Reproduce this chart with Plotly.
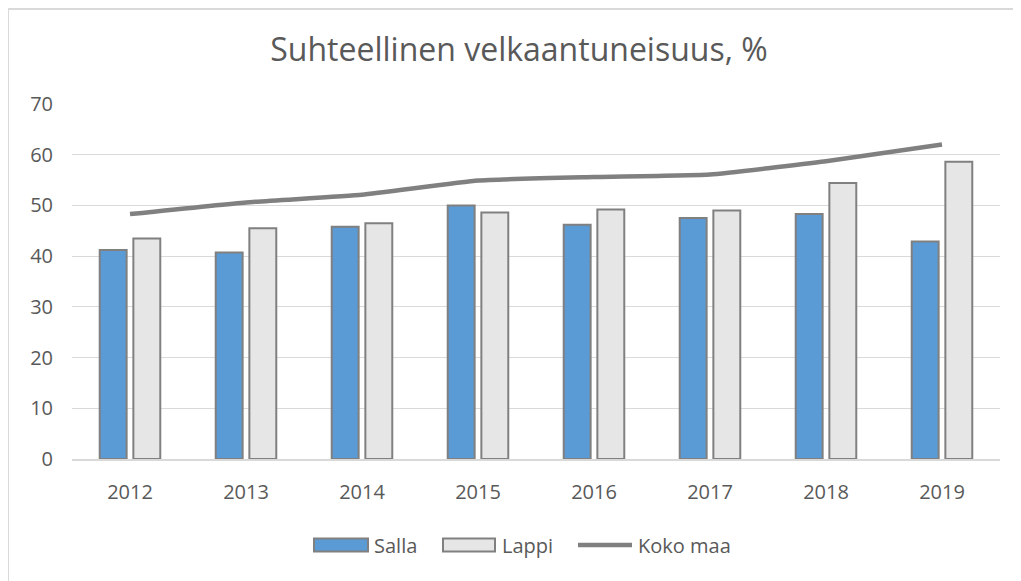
import plotly.graph_objects as go

years = ["2012", "2013", "2014", "2015", "2016", "2017", "2018", "2019"]
salla = [41.2, 40.7, 45.8, 50.0, 46.2, 47.5, 48.3, 42.9]
lappi = [43.5, 45.5, 46.5, 48.6, 49.2, 49.0, 54.4, 58.6]
koko_maa = [48.3, 50.6, 52.1, 54.9, 55.6, 56.1, 58.7, 62.0]
series_names = ["Salla", "Lappi", "Koko maa"]

# page has an 8px body margin; work in screenshot pixels and shift
OFF = 8
W, H = 1021 - OFF, 581 - OFF
ml, mr, mt, mb = 64, 21, 96, 122
pw, ph = W - ml - mr, H - mt - mb

def px_x(x):
    return (x - OFF - ml) / pw

def px_y(y):
    return (H - mb - (y - OFF)) / ph

font_fam = "Open Sans, Liberation Sans, sans-serif"
txt = "#595959"
edge = "#808080"
c_salla, c_lappi, c_line = "#5b9bd5", "#e7e6e6", "#808080"

fig = go.Figure()
fig.add_trace(go.Bar(x=years, y=salla, name=series_names[0],
                     marker=dict(color=c_salla, line=dict(color=edge, width=2))))
fig.add_trace(go.Bar(x=years, y=lappi, name=series_names[1],
                     marker=dict(color=c_lappi, line=dict(color=edge, width=2))))
fig.add_trace(go.Scatter(x=years, y=koko_maa, name=series_names[2], mode="lines",
                         line=dict(color=c_line, width=4.5, shape="spline", smoothing=0.4)))

# legend drawn manually (Excel style wide swatches)
shapes = [dict(type="rect", xref="paper", yref="paper",
               x0=px_x(OFF), x1=px_x(1040), y0=px_y(600), y1=(H - mb - 1) / ph,
               line=dict(color="#d9d9d9", width=2), fillcolor="rgba(0,0,0,0)", layer="below")]
annotations = []
ly = 545
legend_items = [(314, 368, 372, "bar", c_salla), (443, 495, 500, "bar", c_lappi),
                (578, 632, 636, "line", c_line)]
for name, (sx0, sx1, tx, kind, col) in zip(series_names, legend_items):
    if kind == "bar":
        shapes.append(dict(type="rect", xref="paper", yref="paper",
                           x0=px_x(sx0), x1=px_x(sx1), y0=px_y(ly + 6.5), y1=px_y(ly - 6.5),
                           line=dict(color=edge, width=2), fillcolor=col))
    else:
        shapes.append(dict(type="line", xref="paper", yref="paper",
                           x0=px_x(sx0), x1=px_x(sx1), y0=px_y(ly), y1=px_y(ly),
                           line=dict(color=col, width=4.5)))
    annotations.append(dict(text=name, xref="paper", yref="paper", x=px_x(tx), y=px_y(ly),
                            xanchor="left", yanchor="middle", showarrow=False,
                            font=dict(family=font_fam, size=20, color=txt)))

fig.update_layout(
    width=W, height=H,
    margin=dict(l=ml, r=mr, t=mt, b=mb),
    paper_bgcolor="white", plot_bgcolor="white",
    barmode="group", bargap=0.42, bargroupgap=0.2,
    title=dict(text="Suhteellinen velkaantuneisuus, %", x=(519 - OFF) / W, xanchor="center",
               y=1 - (50 - OFF) / H, yanchor="middle",
               font=dict(family=font_fam, size=32, color=txt)),
    font=dict(family=font_fam, size=20, color=txt),
    showlegend=False,
    shapes=shapes,
    annotations=annotations,
)
fig.update_xaxes(showgrid=False, showline=True, linecolor="#d9d9d9", linewidth=1.5,
                 ticks="", tickfont=dict(size=20, color=txt), ticklabelstandoff=14)
fig.update_yaxes(range=[0, 70], dtick=10, showgrid=True, gridcolor="#d9d9d9", gridwidth=1.2,
                 zeroline=False, showline=False, ticks="",
                 tickfont=dict(size=20, color=txt), ticklabelstandoff=18)

fig.write_html("out.html")
